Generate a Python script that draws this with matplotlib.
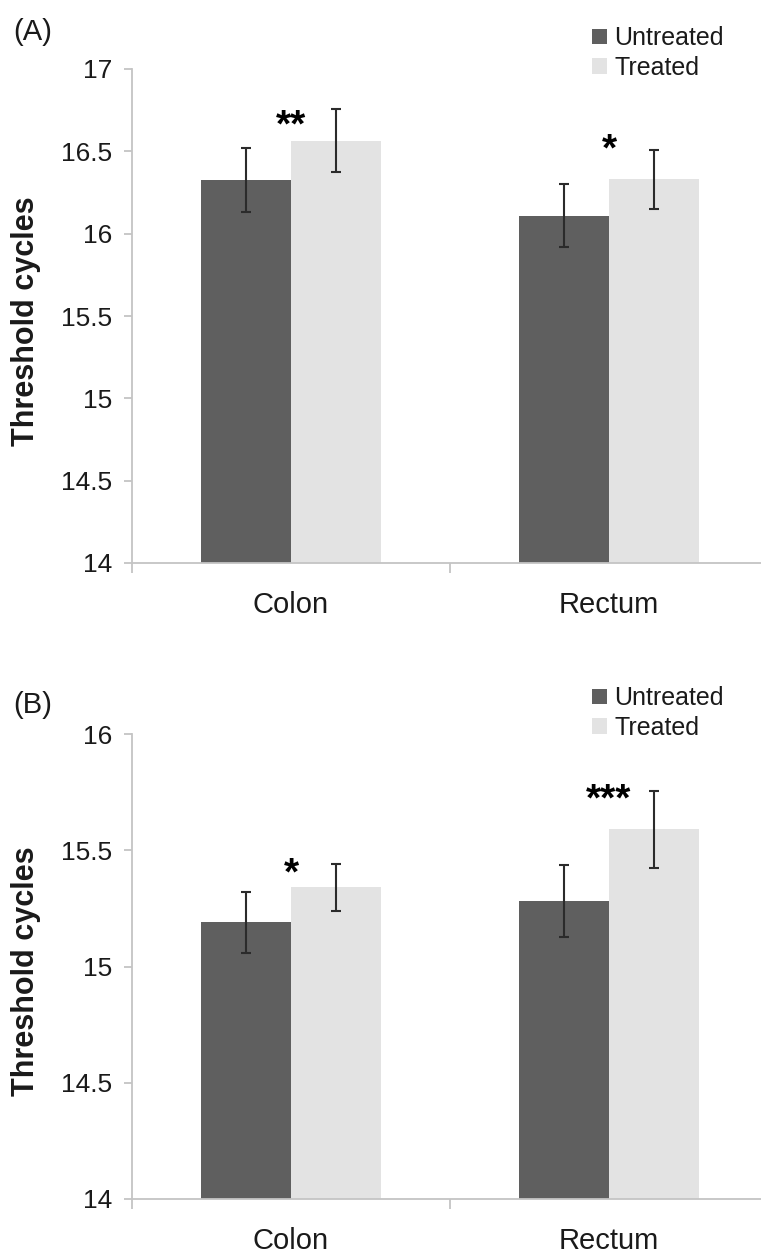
import matplotlib.pyplot as plt
from matplotlib.patches import Patch
from matplotlib.ticker import FixedLocator

plt.rcParams['font.family'] = ['Liberation Sans', 'DejaVu Sans']

categories = ["Colon", "Rectum"]
series = ["Untreated", "Treated"]

# panel A
a_untreated = [16.325, 16.11]
a_untreated_err = [0.195, 0.19]
a_treated = [16.565, 16.33]
a_treated_err = [0.19, 0.18]
a_stars = ["**", "*"]
a_star_y = [16.73, 16.58]
a_yticks = [14, 14.5, 15, 15.5, 16, 16.5, 17]

# panel B
b_untreated = [15.19, 15.28]
b_untreated_err = [0.13, 0.155]
b_treated = [15.34, 15.59]
b_treated_err = [0.10, 0.165]
b_stars = ["*", "***"]
b_star_y = [15.45, 15.77]
b_yticks = [14, 14.5, 15, 15.5, 16]

DARK = "#5f5f5f"
LIGHT = "#e3e3e3"
AXIS = "#c4c4c4"
TEXT = "#1a1a1a"
W, H = 761, 1257


def draw_panel(fig, rect, letter, letter_y, untreated, u_err, treated, t_err,
               stars, star_y, yticks, legend_y):
    ax = fig.add_axes(rect)
    x = list(range(len(categories)))
    bw = 0.283
    xu = [i - bw / 2 for i in x]
    xt = [i + bw / 2 for i in x]
    ax.bar(xu, [v - yticks[0] for v in untreated], bw, bottom=yticks[0], color=DARK)
    ax.bar(xt, [v - yticks[0] for v in treated], bw, bottom=yticks[0], color=LIGHT)
    eb = dict(fmt="none", ecolor="#2b2b2b", elinewidth=1.5, capsize=3.6, capthick=1.5)
    ax.errorbar(xu, untreated, yerr=u_err, **eb)
    ax.errorbar(xt, treated, yerr=t_err, **eb)

    fs_star = 28
    for i, (s, y) in enumerate(zip(stars, star_y)):
        ax.annotate(s, (x[i], y), xytext=(0, -0.585 * fs_star), textcoords="offset points",
                    ha="center", va="baseline", fontsize=fs_star, fontweight="bold", color="black")

    ax.set_xlim(-0.5, len(categories) - 0.5)
    ax.set_ylim(yticks[0], yticks[-1])
    ax.set_yticks(yticks)
    ax.set_yticklabels([f"{t:g}" for t in yticks])
    ax.set_xticks(x)
    ax.set_xticklabels(categories)
    ax.xaxis.set_minor_locator(FixedLocator([-0.5, 0.5, 1.5]))

    for side in ["top", "right"]:
        ax.spines[side].set_visible(False)
    for side in ["left", "bottom"]:
        ax.spines[side].set_color(AXIS)
        ax.spines[side].set_linewidth(1.3)
    ax.tick_params(axis="y", length=6, width=1.3, color=AXIS, labelsize=19, labelcolor=TEXT, pad=8)
    ax.tick_params(axis="x", which="major", length=0, labelsize=21, labelcolor=TEXT, pad=20)
    ax.tick_params(axis="x", which="minor", length=7, width=1.3, color=AXIS)

    ax.set_ylabel("Threshold cycles", fontsize=22, fontweight="bold", color=TEXT)
    ax.yaxis.set_label_coords(-0.143, 0.49)

    fig.text(13 / W, letter_y, letter, fontsize=21, color=TEXT, ha="left", va="center")

    handles = [Patch(facecolor=DARK), Patch(facecolor=LIGHT)]
    fig.legend(handles, series, loc="center left", bbox_to_anchor=(592 / W, legend_y),
               frameon=False, fontsize=18, handlelength=0.6, handleheight=0.6,
               handletextpad=0.3, labelspacing=0.22, borderpad=0, borderaxespad=0,
               labelcolor=TEXT)
    return ax


fig = plt.figure(figsize=(W / 100, H / 100), dpi=100)
left = 132 / W
width = (768 - 132) / W
draw_panel(fig, [left, (H - 563) / H, width, (563 - 69) / H], "(A)", 1 - 32 / H,
           a_untreated, a_untreated_err, a_treated, a_treated_err,
           a_stars, a_star_y, a_yticks, 1 - 53 / H)
draw_panel(fig, [left, (H - 1199) / H, width, (1199 - 734) / H], "(B)", 1 - 705 / H,
           b_untreated, b_untreated_err, b_treated, b_treated_err,
           b_stars, b_star_y, b_yticks, 1 - 713 / H)

fig.savefig("out.png", dpi=100)
